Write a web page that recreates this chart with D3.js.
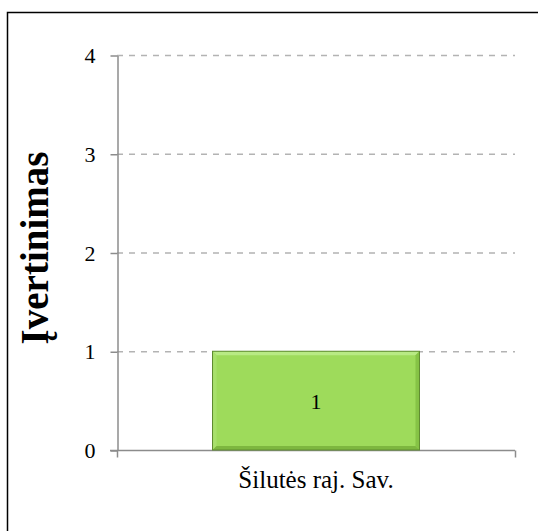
<!DOCTYPE html>
<html><head><meta charset="utf-8">
<script src="https://cdn.jsdelivr.net/npm/d3@7"></script>
<style>body{margin:0;background:#fff}svg{display:block}</style>
</head><body>
<script>
const categories = ["Šilutės raj. Sav."];
const values = [1];
const yTicks = [0, 1, 2, 3, 4];
const yTitle = "Įvertinimas";

const W = 538, H = 531;
const FONT = "'Liberation Serif', 'Times New Roman', serif";
const svg = d3.select("body").append("svg").attr("width", W).attr("height", H)
  .style("font-family", FONT);
// outer frame (left/top visible)
svg.append("rect").attr("x", 7.5).attr("y", 12.5).attr("width", 600).attr("height", 600)
  .attr("fill", "none").attr("stroke", "#000").attr("stroke-width", 1.5);

const x0 = 117, x1 = 515, yTop = 55, yBot = 450;
const y = d3.scaleLinear().domain([0, 4]).range([yBot, yTop]);
const x = d3.scaleBand().domain(categories).range([x0, x1]).paddingInner(0.48).paddingOuter(0.24);

// gridlines
svg.append("g").selectAll("line").data(yTicks.filter(d => d > 0)).join("line")
  .attr("x1", x0).attr("x2", x1).attr("y1", d => y(d) + 0.5).attr("y2", d => y(d) + 0.5)
  .attr("stroke", "#b3b3b3").attr("stroke-width", 1.3).attr("stroke-dasharray", "6,6");

// y axis
const ya = svg.append("g").attr("transform", `translate(${x0 + 0.5},0.5)`)
  .call(d3.axisLeft(y).tickValues(yTicks).tickSize(7).tickSizeOuter(0).tickFormat(d3.format("d")));
ya.attr("font-family", FONT);
ya.select(".domain").attr("stroke", "#8c8c8c").attr("stroke-width", 1.5);
ya.selectAll(".tick line").attr("stroke", "#8c8c8c").attr("stroke-width", 1.5);
ya.selectAll(".tick text").attr("font-family", FONT).attr("font-size", 22)
  .attr("fill", "#000").attr("x", -22);

// x axis
const xa = svg.append("g").attr("transform", `translate(0,${yBot + 0.5})`);
xa.append("line").attr("x1", x0 - 7).attr("x2", x1).attr("stroke", "#8c8c8c").attr("stroke-width", 1.5);
[x0, x1].forEach(px => xa.append("line").attr("x1", px + 0.5).attr("x2", px + 0.5).attr("y1", 0).attr("y2", 7)
  .attr("stroke", "#8c8c8c").attr("stroke-width", 1.5));
xa.selectAll("text.cat").data(categories).join("text").attr("class", "cat")
  .attr("x", d => x(d) + x.bandwidth() / 2).attr("y", 37)
  .attr("text-anchor", "middle").attr("font-family", FONT).attr("font-size", 25)
  .attr("fill", "#000").text(d => d);

// bars with bevel
const b = 4;
const g = svg.append("g");
categories.forEach((c, i) => {
  const bx = x(c), bw = x.bandwidth(), by = y(values[i]), bh = y(0) - y(values[i]);
  const gg = g.append("g");
  gg.append("rect").attr("x", bx).attr("y", by).attr("width", bw).attr("height", bh).attr("fill", "#9edb5b");
  const poly = (pts, col) => gg.append("polygon").attr("points", pts.map(p => p.join(",")).join(" ")).attr("fill", col);
  poly([[bx, by], [bx + bw, by], [bx + bw - b, by + b], [bx + b, by + b]], "#b8ea84");
  poly([[bx, by], [bx + b, by + b], [bx + b, by + bh - b], [bx, by + bh]], "#a8e06c");
  poly([[bx + bw, by], [bx + bw, by + bh], [bx + bw - b, by + bh - b], [bx + bw - b, by + b]], "#86c346");
  poly([[bx, by + bh], [bx + b, by + bh - b], [bx + bw - b, by + bh - b], [bx + bw, by + bh]], "#7db73f");
  gg.append("rect").attr("x", bx).attr("y", by).attr("width", bw).attr("height", bh)
    .attr("fill", "none").attr("stroke", "#5e8a30").attr("stroke-width", 1);
  gg.append("text").attr("x", bx + bw / 2).attr("y", by + bh / 2 + 8).attr("text-anchor", "middle")
    .attr("font-family", FONT).attr("font-size", 22).attr("fill", "#000").text(values[i]);
});

// y title
svg.append("text").attr("transform", `translate(48,248) rotate(-90)`)
  .attr("text-anchor", "middle").attr("font-family", FONT).attr("font-weight", "bold")
  .attr("font-size", 39).attr("fill", "#000").text(yTitle);
</script>
</body></html>
